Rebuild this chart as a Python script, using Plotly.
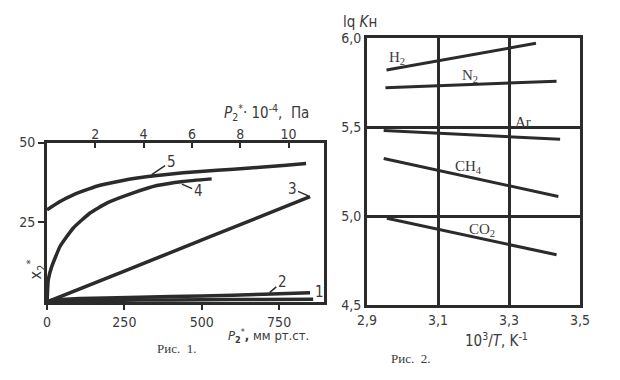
import plotly.graph_objects as go

# ---------------- Fig. 1 data (P2*, mm Hg  vs  x2*) ----------------
c1_x = [0, 50, 150, 300, 500, 700, 860]
c1_y = [0, 0.3, 0.45, 0.6, 0.7, 0.8, 0.9]
c2_x = [0, 20, 60, 150, 300, 500, 700, 850]
c2_y = [0, 0.6, 0.9, 1.2, 1.5, 1.9, 2.4, 2.9]
c3_x = [0, 250, 527, 850]
c3_y = [0, 9.7, 20.5, 33.0]
c4_x = [0, 1, 4, 15, 42, 85, 139, 193, 279, 355, 440, 532]
c4_y = [0, 1.7, 6.9, 11.0, 17.4, 23.2, 27.9, 31.0, 34.2, 36.5, 37.8, 38.6]
c5_x = [0, 42, 85, 160, 245, 333, 440, 550, 656, 763, 837]
c5_y = [28.9, 31.5, 33.6, 36.3, 38.1, 39.4, 40.5, 41.3, 42.0, 42.8, 43.4]
curve_names = ["1", "2", "3", "4", "5"]

x_ticks_mm = [0, 250, 500, 750]
x_ticks_pa = [2, 4, 6, 8, 10]
y_ticks_x2 = [25, 50]

# ---------------- Fig. 2 data (10^3/T vs lg K) ----------------
h2_x, h2_y = [2.955, 3.376], [5.82, 5.97]
n2_x, n2_y = [2.952, 3.434], [5.72, 5.757]
ar_x, ar_y = [2.947, 3.444], [5.481, 5.431]
ch4_x, ch4_y = [2.947, 3.439], [5.323, 5.11]
co2_x, co2_y = [2.956, 3.434], [4.987, 4.782]
gas_names = ["H<sub>2</sub>", "N<sub>2</sub>", "Ar", "CH<sub>4</sub>", "CO<sub>2</sub>"]
t_ticks = [2.9, 3.1, 3.3, 3.5]
t_ticktext = ["2,9", "3,1", "3,3", "3,5"]
k_ticks = [4.5, 5.0, 5.5, 6.0]
k_ticktext = ["4,5", "5,0", "5,5", "6,0"]

INK = "#2b2b2b"
TXT = "#3a3a3a"
NARROW = "Liberation Sans Narrow, DejaVu Sans Condensed, Liberation Sans, Arial, sans-serif"
SERIF = "Liberation Serif, DejaVu Serif, serif"

W, H, OFF = 620, 380, 8  # page body margin shifts the figure by 8 px


def px_x(p):
    return (p - OFF) / W


def px_y(p):
    return 1 - (p - OFF) / H


fig = go.Figure()

for xs, ys in [(c1_x, c1_y), (c2_x, c2_y), (c3_x, c3_y), (c4_x, c4_y), (c5_x, c5_y)]:
    fig.add_trace(go.Scatter(x=xs, y=ys, mode="lines", line=dict(color=INK, width=3.5, shape="spline", smoothing=0.4),
                             xaxis="x", yaxis="y", showlegend=False, hoverinfo="skip"))

for xs, ys in [(h2_x, h2_y), (n2_x, n2_y), (ar_x, ar_y), (ch4_x, ch4_y), (co2_x, co2_y)]:
    fig.add_trace(go.Scatter(x=xs, y=ys, mode="lines", line=dict(color=INK, width=3),
                             xaxis="x3", yaxis="y3", showlegend=False, hoverinfo="skip"))

tickfont = dict(family=NARROW, size=14, color=TXT)

fig.update_layout(
    width=W, height=H, autosize=False,
    margin=dict(l=0, r=0, t=0, b=0, pad=0, autoexpand=False),
    paper_bgcolor="white", plot_bgcolor="white",
    xaxis=dict(domain=[px_x(47), px_x(324)], range=[0, 895], tickvals=x_ticks_mm,
               ticks="outside", ticklen=5, tickwidth=2, tickcolor=INK,
               showline=True, linewidth=3, linecolor=INK, mirror=True,
               showgrid=False, zeroline=False, tickfont=tickfont, anchor="y"),
    xaxis2=dict(range=[0, 11.47], tickvals=x_ticks_pa, overlaying="x", side="top",
                ticks="inside", ticklen=5, tickwidth=2, tickcolor=INK,
                showline=False, showgrid=False, zeroline=False, tickfont=tickfont, anchor="y"),
    yaxis=dict(domain=[px_y(302), px_y(142.5)], range=[0, 50], tickvals=y_ticks_x2,
               ticks="outside", ticklen=6, tickwidth=2, tickcolor=INK,
               showline=True, linewidth=3, linecolor=INK, mirror=True,
               showgrid=False, zeroline=False, tickfont=tickfont, anchor="x"),
    xaxis3=dict(domain=[px_x(367), px_x(580)], range=[2.9, 3.5], tickvals=t_ticks, ticktext=t_ticktext,
                ticks="", showline=True, linewidth=3, linecolor=INK, mirror=True,
                showgrid=True, gridcolor=INK, gridwidth=2.5, zeroline=False,
                tickfont=tickfont, anchor="y3"),
    yaxis3=dict(domain=[px_y(305), px_y(38)], range=[4.5, 6.0], tickvals=k_ticks, ticktext=k_ticktext,
                ticks="", showline=True, linewidth=3, linecolor=INK, mirror=True,
                showgrid=True, gridcolor=INK, gridwidth=2.5, zeroline=False,
                tickfont=tickfont, anchor="x3"),
)
# dummy trace so top axis renders
fig.add_trace(go.Scatter(x=[None], y=[None], xaxis="x2", yaxis="y", showlegend=False))

anns = []
# curve labels with leader lines (fig. 1)
label_pts = [
    (860, 0.9, 6, -7),     # 1
    (715, 2.6, 14, -12),   # 2
    (850, 33.0, -18, -8),  # 3
    (430, 37.2, 18, 8),    # 4
    (333, 39.6, 21, -14),  # 5
]
for name, (px, py, ax, ay) in zip(curve_names, label_pts):
    anns.append(dict(x=px, y=py, xref="x", yref="y", text=name, showarrow=True, arrowhead=0,
                     arrowwidth=1.5, arrowcolor=INK, ax=ax, ay=ay, standoff=2,
                     font=dict(family=NARROW, size=15, color=TXT)))

# gas labels (fig. 2)
gas_pos = [(2.985, 5.89), (3.19, 5.785), (3.34, 5.53), (3.185, 5.275), (3.225, 4.92)]
for name, (gx, gy) in zip(gas_names, gas_pos):
    anns.append(dict(x=gx, y=gy, xref="x3", yref="y3", text=name, showarrow=False,
                     font=dict(family=SERIF, size=15, color=TXT)))


def paper(text, px, py, size=15, family=NARROW, angle=0):
    anns.append(dict(x=px_x(px), y=px_y(py), xref="paper", yref="paper", text=text, showarrow=False,
                     textangle=angle, font=dict(family=family, size=size, color=TXT)))


paper("<i>P</i><sub>2</sub><sup>*</sup>· 10<sup>-4</sup>,  Па", 266, 100, 15)
paper("<i>P</i><sub><b>2</b></sub><sup>*</sup><b>,</b> мм рт.ст.", 268, 347, 13)
paper("x<sub>2</sub><sup>*</sup>", 22, 282, 16, angle=-90)
paper("Рис.  1.", 155, 358, 13, SERIF)
paper("lq <i>K</i>н", 360, 11, 15)
paper("10<sup>3</sup>/<i>T</i>, K<sup>-1</sup>", 530, 352, 15)
paper("Рис.  2.", 432, 368, 13, SERIF)

fig.update_layout(annotations=anns)
fig.write_html("out.html")
